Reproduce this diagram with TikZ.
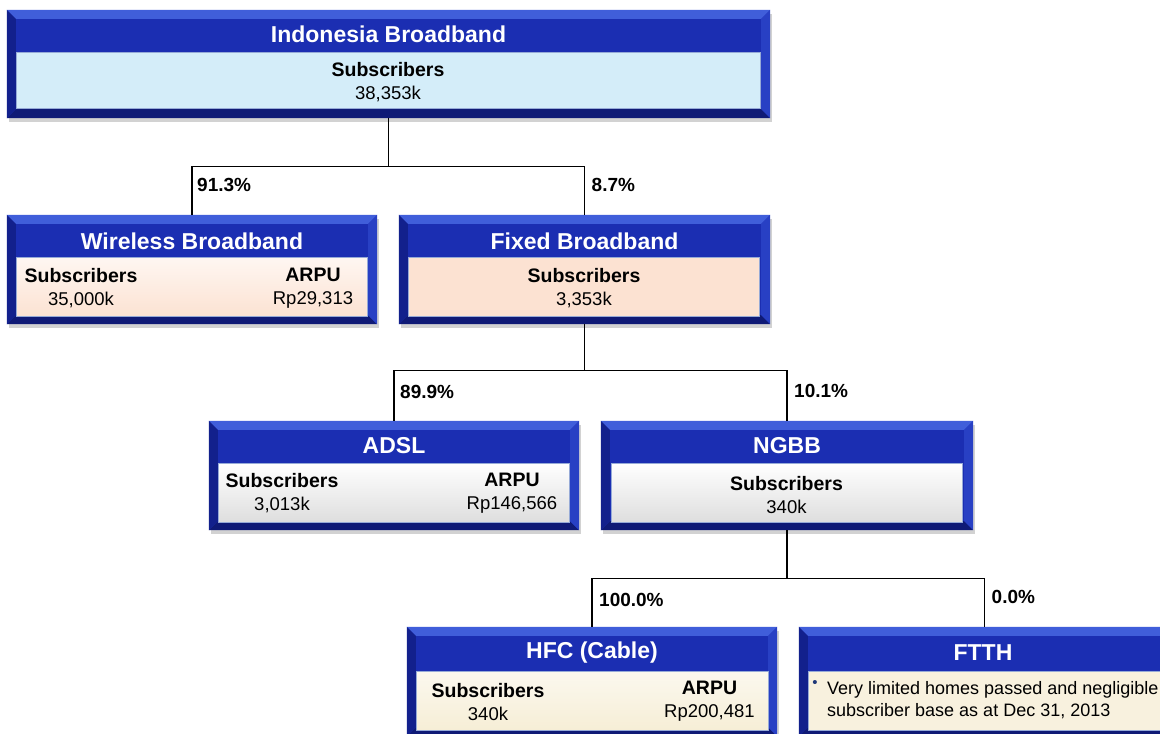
\documentclass[tikz,border=0pt]{standalone}
\usepackage{fontspec}
\setmainfont{Liberation Sans}
\usetikzlibrary{shadows}
\definecolor{boxblue}{RGB}{27,46,178}
\definecolor{bevtop}{RGB}{64,94,218}
\definecolor{bevleft}{RGB}{18,32,140}
\definecolor{bevright}{RGB}{40,64,196}
\definecolor{bevbot}{RGB}{15,26,118}
\definecolor{innerblue}{RGB}{212,237,249}
\definecolor{peach}{RGB}{252,226,210}
\definecolor{greyin}{RGB}{222,222,222}
\definecolor{cream}{RGB}{246,238,214}
\definecolor{innerline}{RGB}{150,170,215}
\definecolor{bulletblue}{RGB}{31,56,120}
\newcommand\lblfont{\fontsize{19.5}{23}\selectfont\bfseries}
\newcommand\bevelit[1]{%
  \fill[bevtop] (#1.north west) -- (#1.north east) -- ([shift={(-9pt,-9pt)}]#1.north east) -- ([shift={(9pt,-9pt)}]#1.north west) -- cycle;
  \fill[bevbot] (#1.south west) -- (#1.south east) -- ([shift={(-9pt,9pt)}]#1.south east) -- ([shift={(9pt,9pt)}]#1.south west) -- cycle;
  \fill[bevleft] (#1.north west) -- ([shift={(9pt,-9pt)}]#1.north west) -- ([shift={(9pt,9pt)}]#1.south west) -- (#1.south west) -- cycle;
  \fill[bevright] (#1.north east) -- ([shift={(-9pt,-9pt)}]#1.north east) -- ([shift={(-9pt,9pt)}]#1.south east) -- (#1.south east) -- cycle;
}
\tikzset{
  outer/.style={rectangle, inner sep=0pt, fill=boxblue, minimum height=109pt,
    drop shadow={opacity=0.35, shadow xshift=2pt, shadow yshift=-4pt}},
  innerbox/.style={rectangle, inner sep=0pt, draw=innerline, line width=0.8pt, minimum height=59pt, minimum width=351pt},
  titletext/.style={text=white, font=\fontsize{23}{27}\selectfont\bfseries, inner sep=0pt},
  bodytext/.style={font=\fontsize{18.5}{23}\selectfont, align=center, inner sep=0pt},
  pct/.style={font=\fontsize{19}{23}\selectfont\bfseries, anchor=west, inner sep=0pt},
  conn/.style={draw=black, line width=1.4pt}
}
\begin{document}
\begin{tikzpicture}[x=1pt,y=-1pt]
\useasboundingbox[fill=white] (0,0) rectangle (1160,734);

% Indonesia Broadband
\node[outer, minimum width=763pt, minimum height=108pt] (ib) at (388.5,64) {};
\bevelit{ib}
\node[innerbox, fill=innerblue, minimum width=744pt, minimum height=56pt] (ibi) at (388,80) {};
\node[titletext] (ibt) at (388.5,34) {Indonesia Broadband};
\node[bodytext] (ibs) at (388,82) {{\lblfont Subscribers}\\38,353k};

% Wireless Broadband
\node[outer, minimum width=370pt] (wb) at (192,269.5) {};
\bevelit{wb}
\node[innerbox, top color=white!70!peach, bottom color=peach] (wbi) at (191.5,287) {};
\node[titletext] (wbt) at (192,241) {Wireless Broadband};
\node[bodytext] (wbs) at (81,288.5) {{\lblfont Subscribers}\\35,000k};
\node[bodytext] (wba) at (313,288.5) {{\lblfont ARPU}\\Rp29,313};

% Fixed Broadband
\node[outer, minimum width=371pt] (fb) at (584.5,269.5) {};
\bevelit{fb}
\node[innerbox, fill=peach] (fbi) at (583.5,286.5) {};
\node[titletext] (fbt) at (584.5,241) {Fixed Broadband};
\node[bodytext] (fbs) at (584,288.5) {{\lblfont Subscribers}\\3,353k};

% ADSL
\node[outer, minimum width=370pt] (ad) at (394,475.5) {};
\bevelit{ad}
\node[innerbox, top color=white, bottom color=greyin] (adi) at (393.5,492.5) {};
\node[titletext] (adt) at (394,446) {ADSL};
\node[bodytext] (ads) at (282,493.5) {{\lblfont Subscribers}\\3,013k};
\node[bodytext] (ada) at (512,493.5) {{\lblfont ARPU}\\Rp146,566};

% NGBB
\node[outer, minimum width=372pt] (ng) at (787,475.5) {};
\bevelit{ng}
\node[innerbox, top color=white, bottom color=greyin] (ngi) at (786.5,492.5) {};
\node[titletext] (ngt) at (787,446) {NGBB};
\node[bodytext] (ngs) at (786.5,495.5) {{\lblfont Subscribers}\\340k};

% HFC (Cable)
\node[outer, minimum width=370pt] (hf) at (592,681.5) {};
\bevelit{hf}
\node[innerbox, minimum width=352pt, top color=white!60!cream, bottom color=cream] (hfi) at (592,700.5) {};
\node[titletext] (hft) at (592,653) {HFC (Cable)};
\node[bodytext] (hfs) at (488,702) {{\lblfont Subscribers}\\340k};
\node[bodytext] (hfa) at (709.5,701) {{\lblfont ARPU}\\Rp200,481};

% FTTH
\node[outer, minimum width=371pt] (ft) at (984.5,681.5) {};
\bevelit{ft}
\node[innerbox, minimum width=353pt, fill=cream!80!white] (fti) at (984.5,700.5) {};
\node[titletext] (ftt) at (983,653) {FTTH};
\node[inner sep=0pt, text=bulletblue, font=\fontsize{15}{16}\selectfont] (ftb) at (815,684) {•};
\node[font=\fontsize{18}{22}\selectfont, align=left, anchor=north west, inner sep=0pt] (ftx) at (827,681) {Very limited homes passed and negligible\\subscriber base as at Dec 31, 2013};

% Connectors
\draw[conn] (ib.south) -- ++(0,48) coordinate (j1);
\draw[conn] (wb.north) |- (j1) -| (fb.north);
\draw[conn] (fb.south) -- ++(0,46) coordinate (j2);
\draw[conn] (ad.north) |- (j2) -| (ng.north);
\draw[conn] (ng.south) -- ++(0,48) coordinate (j3);
\draw[conn] (hf.north) |- (j3) -| (ft.north);

% Percentages
\node[pct] (p1) at ([shift={(5pt,30pt)}]wb.north) {91.3\%};
\node[pct] (p2) at ([shift={(7pt,30pt)}]fb.north) {8.7\%};
\node[pct] (p3) at ([shift={(6pt,29pt)}]ad.north) {89.9\%};
\node[pct] (p4) at ([shift={(7pt,30pt)}]ng.north) {10.1\%};
\node[pct] (p5) at ([shift={(7pt,27pt)}]hf.north) {100.0\%};
\node[pct] (p6) at ([shift={(7pt,30pt)}]ft.north) {0.0\%};
\end{tikzpicture}
\end{document}
